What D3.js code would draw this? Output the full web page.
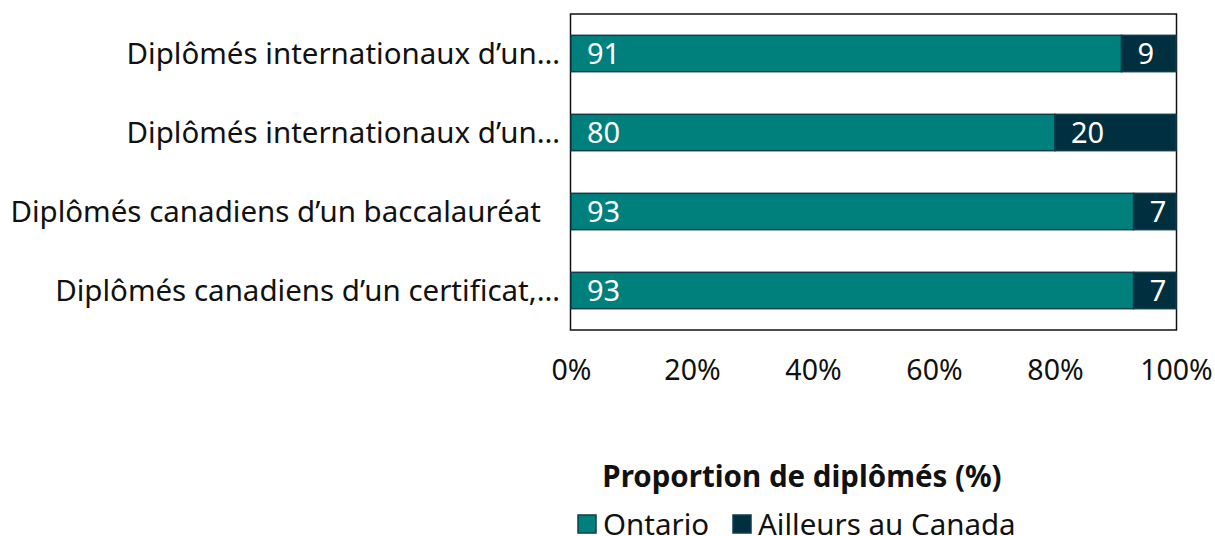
<!DOCTYPE html>
<html>
<head>
<meta charset="utf-8">
<script src="https://cdn.jsdelivr.net/npm/d3@7"></script>
<style>
  body { margin: 0; background: #fff; }
  svg text { font-family: "Noto Sans", sans-serif; }
</style>
</head>
<body>
<svg class="chart"></svg>
<script>
var categories = [
  'Diplômés internationaux d\u2019un…',
  'Diplômés internationaux d\u2019un…',
  'Diplômés canadiens d\u2019un baccalauréat',
  'Diplômés canadiens d\u2019un certificat,…'
];
var ontario = [91, 80, 93, 93];
var ailleurs = [9, 20, 7, 7];
var seriesNames = ['Ontario', 'Ailleurs au Canada'];
var xTicks = [0, 20, 40, 60, 80, 100];

var colors = ['#00807d', '#002f40'];

var svg = d3.select('.chart')
            .attr('width', 1215)
            .attr('height', 536);

var plotLeft = 571, plotRight = 1176, plotTop = 14, plotBottom = 330;

var xScale = d3.scaleLinear()
               .domain([0, 100])
               .range([plotLeft, plotRight]);

var yScale = d3.scaleBand()
               .domain(d3.range(categories.length))
               .range([plotTop, plotBottom])
               .paddingInner(0.54)
               .paddingOuter(0.27);

// stacked rows
var rows = categories.map(function (c, i) {
  return { i: i, values: [ontario[i], ailleurs[i]] };
});

// frame
svg.append('rect')
   .attr('x', plotLeft - 0.5)
   .attr('y', plotTop)
   .attr('width', plotRight - plotLeft + 1)
   .attr('height', plotBottom - plotTop)
   .attr('fill', 'none')
   .attr('stroke', '#111')
   .attr('stroke-width', 1.5);

rows.forEach(function (r) {
  var x0 = 0;
  r.values.forEach(function (v, k) {
    svg.append('rect')
       .attr('x', xScale(x0))
       .attr('y', yScale(r.i))
       .attr('width', xScale(x0 + v) - xScale(x0))
       .attr('height', yScale.bandwidth())
       .attr('fill', colors[k])
       .attr('stroke', '#103d4a')
       .attr('stroke-width', 1.5);

    svg.append('text')
       .attr('x', xScale(x0) + 16)
       .attr('y', yScale(r.i) + yScale.bandwidth() / 2)
       .attr('dy', '0.36em')
       .attr('fill', '#fff')
       .style('font-size', '29px')
       .text(v);
    x0 += v;
  });
});

// category labels
svg.selectAll('.cat')
   .data(categories)
   .join('text')
   .attr('class', 'cat')
   .attr('x', function (d, i) { return i === 2 ? 541 : 560; })
   .attr('y', function (d, i) { return yScale(i) + yScale.bandwidth() / 2; })
   .attr('dy', '0.36em')
   .attr('text-anchor', 'end')
   .attr('fill', '#111')
   .style('font-size', '29.5px')
   .text(function (d) { return d; });

// x axis
var xAxis = d3.axisBottom(xScale)
              .tickValues(xTicks)
              .tickSize(0)
              .tickPadding(30)
              .tickFormat(function (d) { return d + '%'; });

var gx = svg.append('g')
            .attr('transform', 'translate(0,' + plotBottom + ')')
            .call(xAxis);
gx.select('.domain').remove();
gx.selectAll('text')
  .style('font-size', '28.5px')
  .style('font-family', '"Noto Sans", sans-serif')
  .attr('fill', '#111');

// legend title
svg.append('text')
   .attr('x', 802)
   .attr('y', 487)
   .attr('text-anchor', 'middle')
   .attr('fill', '#111')
   .style('font-size', '29.5px')
   .style('font-weight', 'bold')
   .text('Proportion de diplômés (%)');

var legendX = [578, 733];
var legend = svg.selectAll('.leg')
                .data(seriesNames)
                .join('g')
                .attr('class', 'leg')
                .attr('transform', function (d, i) { return 'translate(' + legendX[i] + ',515)'; });

legend.append('rect')
      .attr('width', 18)
      .attr('height', 18)
      .attr('fill', function (d, i) { return colors[i]; })
      .attr('stroke', '#103d4a')
      .attr('stroke-width', 1.5);

legend.append('text')
      .attr('x', 25)
      .attr('y', 9)
      .attr('dy', '0.36em')
      .attr('fill', '#111')
      .style('font-size', '29.5px')
      .text(function (d) { return d; });
</script>
</body>
</html>
